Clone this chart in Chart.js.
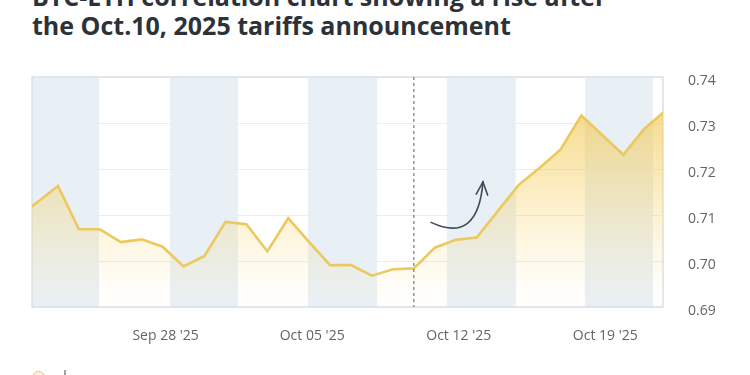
<!DOCTYPE html>
<html lang="en">
<head>
    <meta charset="UTF-8">
    <title>BTC-ETH correlation</title>
    <script src="https://cdn.jsdelivr.net/npm/chart.js"></script>
    <style>
        html, body { margin: 0; padding: 0; background: #fff; overflow: hidden; }
        body { width: 750px; height: 375px; position: relative; font-family: "Open Sans", sans-serif; }
        #title {
            position: absolute; left: 32px; top: -18.2px;
            font-size: 25px; line-height: 29px; font-weight: 700; color: #2d3138;
            white-space: nowrap;
        }
        #wrap { position: absolute; left: 0; top: 0; width: 750px; height: 375px; }
        .leg-dot {
            position: absolute; left: 32px; top: 371px; width: 11px; height: 11px;
            border: 1.5px solid #e6c75e; border-radius: 50%; background: #fdf4d6;
        }
        .leg-bar { position: absolute; left: 64px; top: 370px; width: 1.5px; height: 12px; background: #9aa0a6; }
    </style>
</head>
<body>
    <div id="title">BTC-ETH correlation chart showing a rise after<br>the Oct.10, 2025 tariffs announcement</div>
    <div id="wrap"><canvas id="myChart" width="750" height="375"></canvas></div>
    <div class="leg-dot"></div>
    <div class="leg-bar"></div>
    <script>
        // day 0 = Sep 22 2025
        const days = [-1, 0, 1, 2, 3, 4, 5, 6, 7, 8, 9, 10, 11, 12, 13, 14, 15,
                      16, 17, 18, 19, 20, 21, 22, 23, 24, 25, 26, 27, 28, 29, 30];
        const correlation = [0.7092, 0.7127, 0.7163, 0.7069, 0.7069, 0.7041, 0.7047, 0.7031,
                             0.6988, 0.7011, 0.7085, 0.7080, 0.7021, 0.7093, 0.7041, 0.6991,
                             0.6991, 0.6968, 0.6982, 0.6984, 0.7029, 0.7046, 0.7051, 0.7108,
                             0.7165, 0.7202, 0.7242, 0.7316, 0.7274, 0.7231, 0.7287, 0.7326];

        const tickDays = [6, 13, 20, 27];
        const tickLabels = ["Sep 28 '25", "Oct 05 '25", "Oct 12 '25", "Oct 19 '25"];

        // shaded periods (day ranges)
        const bands = [[-1, 2.96], [6.35, 9.6], [12.94, 16.24], [19.58, 22.87], [26.17, 29.42]];

        const tariffDay = 18; // Oct 10
        // arrow annotation: start, control, end (day, value)
        const arrowPts = [[18.82, 0.7084], [21.06, 0.7036], [21.3, 0.7172]];

        const decor = {
            id: "decor",
            beforeDraw(chart) {
                const { ctx, chartArea: a, scales: { x } } = chart;
                ctx.save();
                ctx.fillStyle = "#e9f0f5";
                bands.forEach(([s, e]) => {
                    const x1 = Math.max(a.left, x.getPixelForValue(s));
                    const x2 = Math.min(a.right, x.getPixelForValue(e));
                    ctx.fillRect(x1, a.top, x2 - x1, a.bottom - a.top);
                });
                ctx.restore();
            },
            beforeDatasetsDraw(chart) {
                const { ctx, chartArea: a } = chart;
                ctx.save();
                ctx.strokeStyle = "#d9e1e7";
                ctx.lineWidth = 1.5;
                ctx.strokeRect(a.left, a.top, a.right - a.left, a.bottom - a.top);
                ctx.restore();
            },
            afterDatasetsDraw(chart) {
                const { ctx, chartArea: a, scales: { x, y } } = chart;
                ctx.save();
                // event line
                const xv = x.getPixelForValue(tariffDay);
                ctx.strokeStyle = "#5a5f66";
                ctx.lineWidth = 1;
                ctx.setLineDash([3, 3]);
                ctx.beginPath();
                ctx.moveTo(xv, a.top);
                ctx.lineTo(xv, a.bottom);
                ctx.stroke();
                ctx.setLineDash([]);

                // curved arrow
                const p = arrowPts.map(([d, v]) => [x.getPixelForValue(d), y.getPixelForValue(v)]);
                ctx.strokeStyle = "#3f4b5b";
                ctx.lineWidth = 1.6;
                ctx.lineCap = "round";
                ctx.beginPath();
                ctx.moveTo(p[0][0], p[0][1]);
                ctx.quadraticCurveTo(p[1][0], p[1][1], p[2][0], p[2][1]);
                ctx.stroke();
                const ang = Math.atan2(p[2][1] - p[1][1], p[2][0] - p[1][0]);
                const len = 14;
                ctx.beginPath();
                ctx.moveTo(p[2][0] - len * Math.cos(ang - 0.42), p[2][1] - len * Math.sin(ang - 0.42));
                ctx.lineTo(p[2][0], p[2][1]);
                ctx.lineTo(p[2][0] - len * Math.cos(ang + 0.42), p[2][1] - len * Math.sin(ang + 0.42));
                ctx.stroke();
                ctx.restore();
            }
        };

        const ctx = document.getElementById("myChart").getContext("2d");
        new Chart(ctx, {
            type: "line",
            data: {
                datasets: [{
                    label: "BTC-ETH correlation",
                    data: days.map((d, i) => ({ x: d, y: correlation[i] })),
                    borderColor: "#ebc95e",
                    borderWidth: 2.6,
                    pointRadius: 0,
                    tension: 0,
                    fill: "start",
                    clip: 0,
                    backgroundColor: (c) => {
                        const a = c.chart.chartArea;
                        if (!a) return "rgba(240,200,80,0.3)";
                        const g = c.chart.ctx.createLinearGradient(0, a.top, 0, a.bottom);
                        g.addColorStop(0, "rgba(240,194,62,0.72)");
                        g.addColorStop(0.55, "rgba(245,205,90,0.32)");
                        g.addColorStop(1, "rgba(252,225,140,0)");
                        return g;
                    }
                }]
            },
            options: {
                responsive: false,
                animation: false,
                layout: { padding: { top: 77, left: 32, right: 0, bottom: 30 } },
                plugins: { legend: { display: false }, tooltip: { enabled: false } },
                scales: {
                    x: {
                        type: "linear",
                        min: -0.24,
                        max: 29.9,
                        afterBuildTicks: (s) => { s.ticks = tickDays.map(v => ({ value: v })); },
                        afterFit: (s) => { s.height = 38; },
                        ticks: {
                            padding: 21,
                            labelOffset: 3,
                            maxRotation: 0,
                            autoSkip: false,
                            color: "#60656b",
                            font: { family: "Open Sans", size: 14 },
                            callback: (v) => tickLabels[tickDays.indexOf(v)]
                        },
                        grid: { display: false, drawTicks: false },
                        border: { display: false }
                    },
                    y: {
                        position: "right",
                        min: 0.69,
                        max: 0.74,
                        afterFit: (s) => { s.width = 87; },
                        ticks: {
                            stepSize: 0.01,
                            padding: 25,
                            labelOffset: 4,
                            color: "#60656b",
                            font: { family: "Open Sans", size: 14 },
                            callback: (v) => v.toFixed(2)
                        },
                        grid: { color: "#e9edf0", drawTicks: false },
                        border: { display: false }
                    }
                }
            },
            plugins: [decor]
        });
    </script>
</body>
</html>
